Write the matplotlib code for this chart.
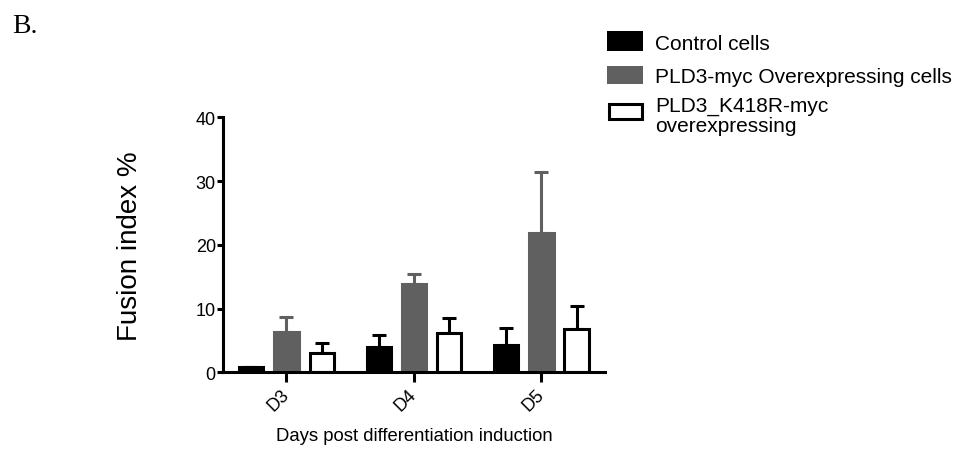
import matplotlib
matplotlib.use("Agg")
import matplotlib.pyplot as plt
from matplotlib.patches import Rectangle
import numpy as np

days = ["D3", "D4", "D5"]
series_names = ["Control cells", "PLD3-myc Overexpressing cells", "PLD3_K418R-myc\noverexpressing"]
control = [0.8, 4.0, 4.3]
control_err = [0.0, 1.9, 2.6]
pld3 = [6.4, 13.8, 21.8]
pld3_err = [2.3, 1.7, 9.7]
k418r = [3.1, 6.2, 6.8]
k418r_err = [1.45, 2.4, 3.65]

plt.rcParams['font.family'] = ['Liberation Sans', 'DejaVu Sans']

W, H = 956, 452
fig = plt.figure(figsize=(W / 100, H / 100), dpi=100)
ax = fig.add_axes([0.233, 0.174, 0.400, 0.564])

x = np.arange(len(days))
off = 0.276
w = 0.19
gray = '#606060'
lw = 2.2

styles = [
    dict(vals=control, err=control_err, face='black', edge='black', ecol='black'),
    dict(vals=pld3, err=pld3_err, face=gray, edge=gray, ecol=gray),
    dict(vals=k418r, err=k418r_err, face='white', edge='black', ecol='black'),
]
for i, s in enumerate(styles):
    xs = x + (i - 1) * off
    ax.bar(xs, s['vals'], width=w, color=s['face'], edgecolor=s['edge'],
           linewidth=lw, zorder=2)
    ax.errorbar(xs, s['vals'], yerr=[np.zeros(3), s['err']], fmt='none',
                ecolor=s['ecol'], elinewidth=lw, capsize=5, capthick=lw, zorder=1)

ax.set_xlim(-0.5, 2.5)
ax.set_ylim(0, 40)
ax.set_yticks([0, 10, 20, 30, 40])
ax.set_xticks(x)
ax.set_xticklabels(days, rotation=45, ha='right', va='center', rotation_mode='anchor')
for sp in ['top', 'right']:
    ax.spines[sp].set_visible(False)
for sp in ['left', 'bottom']:
    ax.spines[sp].set_linewidth(lw)
ax.tick_params(axis='y', width=lw, length=4, labelsize=13, pad=1)
ax.tick_params(axis='x', width=lw, length=7, labelsize=13, pad=7)
ax.set_ylabel("Fusion index %", fontsize=20, labelpad=38)
ax.set_xlabel("Days post differentiation induction", fontsize=13.3, labelpad=9)

# Legend (GraphPad-style, compact rows), placed in figure pixel coordinates
def fx(px):
    return px / W

def fy(py):
    return 1 - py / H

box_rows = [(31.7, 51.7), (66.7, 85.0), (103.0, 121.7)]
text_baselines = [[50.0], [83.3], [111.7, 131.7]]
for s, (t, b), bases, name in zip(styles, box_rows, text_baselines, series_names):
    if s['face'] == 'white':
        inset = 1.5
        rect = Rectangle((fx(607 + inset), fy(b - inset)),
                         fx(36 - 2 * inset), (b - t - 2 * inset) / H,
                         transform=fig.transFigure, facecolor='white',
                         edgecolor='black', linewidth=lw)
    else:
        rect = Rectangle((fx(607), fy(b)), fx(36), (b - t) / H,
                         transform=fig.transFigure, facecolor=s['face'],
                         edgecolor='none')
    fig.add_artist(rect)
    for line, base in zip(name.split("\n"), bases):
        fig.text(fx(655), fy(base), line, fontsize=15, ha='left', va='baseline')

fig.text(12 / W, 1 - 14 / H, "B.", fontsize=20, family=['Liberation Serif'],
         va='top', ha='left')

fig.savefig("out.png", dpi=100)
